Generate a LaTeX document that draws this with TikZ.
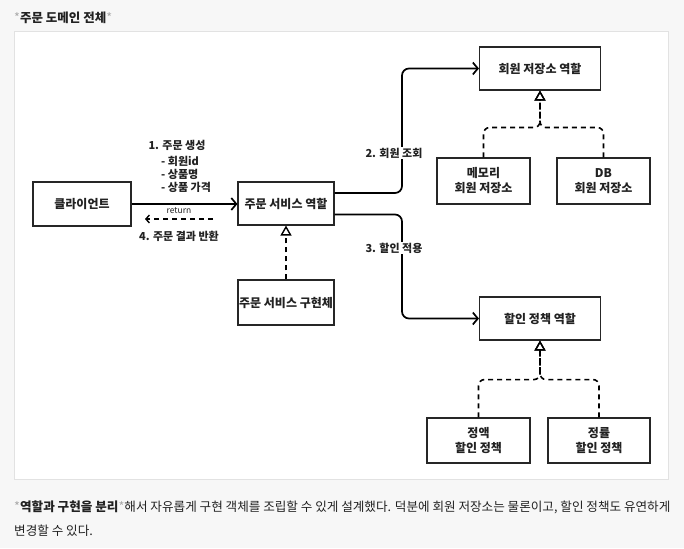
\documentclass[tikz,border=0pt]{standalone}
\usepackage{fontspec}
\setmainfont{Noto Sans CJK KR}
\usetikzlibrary{arrows.meta}
\definecolor{pagebg}{HTML}{F7F7F7}
\definecolor{framecol}{HTML}{E2E2E2}
\definecolor{txt}{HTML}{222222}
\definecolor{star}{HTML}{AAAAAA}
\begin{document}
\begin{tikzpicture}[x=1pt,y=-1pt,
  box/.style={draw=black!85, line width=1.1pt, fill=white, align=center, inner sep=0pt,
    text=txt, font=\bfseries\fontsize{12}{15}\selectfont},
  conn/.style={line width=1.7pt, rounded corners=7pt, -{Straight Barb[length=5pt,width=12pt]}},
  impl/.style={line width=1.6pt, dash pattern=on 5pt off 4pt, rounded corners=6pt,
    -{Triangle[open,length=10pt,width=11pt,line width=1.4pt]}},
  lbl/.style={text=txt, font=\bfseries\fontsize{11}{13}\selectfont, inner sep=1pt},
]
\fill[pagebg] (0,0) rectangle (684,548);
\useasboundingbox (0,0) rectangle (684,548);
\draw[framecol, fill=white, line width=0.8pt] (14.5,31) rectangle (668,479);

\node[anchor=west, inner sep=0pt, font=\fontsize{12.5}{15}\selectfont] (title) at (14,18)
  {\textcolor{star}{*}\textcolor{txt}{\bfseries 주문 도메인 전체}\textcolor{star}{*}};

% boxes
\node[box, minimum width=98pt, minimum height=44pt] (client) at (82,204) {클라이언트};
\node[box, minimum width=96pt, minimum height=43pt] (osr) at (286,203.5) {주문 서비스 역할};
\node[box, minimum width=96pt, minimum height=45pt] (osi) at (286,302.5) {주문 서비스 구현체};
\node[box, minimum width=121pt, minimum height=43pt] (mrr) at (540,68.5) {회원 저장소 역할};
\node[box, minimum width=93pt, minimum height=46pt] (mem) at (483.5,181) {메모리\\회원 저장소};
\node[box, minimum width=93pt, minimum height=46pt] (db) at (603.5,181) {DB\\회원 저장소};
\node[box, minimum width=121pt, minimum height=43pt] (dpr) at (540,318.5) {할인 정책 역할};
\node[box, minimum width=103pt, minimum height=45pt] (fix) at (478.5,440.5) {정액\\할인 정책};
\node[box, minimum width=102pt, minimum height=45pt] (rate) at (599,440.5) {정률\\할인 정책};

% client -> order service
\draw[conn] (client.east) -- (client.east -| osr.west);
\node[lbl] (l1) at (177,145) {1. 주문 생성};
\node[anchor=west, align=left, text=txt, inner sep=0pt,
  font=\bfseries\fontsize{11}{13}\selectfont] (l1list) at (161,174) {- 회원id\\- 상품명\\- 상품 가격};
\coordinate (r1) at (213,219);
\coordinate (r2) at (145,219);
\draw[line width=1.4pt, dash pattern=on 5pt off 4pt, -{Straight Barb[length=3.5pt,width=8pt]}] (r1) -- (r2);
\node[text=txt, inner sep=0pt, font=\fontsize{8.5}{10}\selectfont] (ret) at (179,211) {return};
\node[lbl] (l4) at (179,236) {4. 주문 결과 반환};

% order service -> repos / discount
\coordinate (o2) at ([yshift=10.5pt]osr.east);
\coordinate (o3) at ([yshift=-11pt]osr.east);
\coordinate (bx) at (402,0);
\draw[conn] (o2) -- (o2 -| bx) |- (mrr.west);
\draw[conn] (o3) -- (o3 -| bx) |- (dpr.west);
\node[lbl, fill=white] (l2) at (394,153) {2. 회원 조회};
\node[lbl, fill=white] (l3) at (394,248) {3. 할인 적용};

% implementations
\draw[impl] (osi.north) -- (osr.south);
\path (mrr.south) ++(0,37) coordinate (j1);
\draw[impl] (mem.north) |- (j1) -- (mrr.south);
\draw[impl] (db.north) |- (j1) -- (mrr.south);
\path (dpr.south) ++(0,39) coordinate (j2);
\draw[impl] (fix.north) |- (j2) -- (dpr.south);
\draw[impl] (rate.north) |- (j2) -- (dpr.south);

% bottom text
\node[anchor=west, inner sep=0pt, text=txt, font=\fontsize{12.6}{15}\selectfont] (b1) at (14,507)
  {\textcolor{star}{*}{\bfseries 역할과 구현을 분리}\textcolor{star}{*}해서 자유롭게 구현 객체를 조립할 수 있게 설계했다. 덕분에 회원 저장소는 물론이고, 할인 정책도 유연하게};
\node[anchor=west, inner sep=0pt, text=txt, font=\fontsize{12.6}{15}\selectfont] (b2) at (14,531)
  {변경할 수 있다.};
\end{tikzpicture}
\end{document}
